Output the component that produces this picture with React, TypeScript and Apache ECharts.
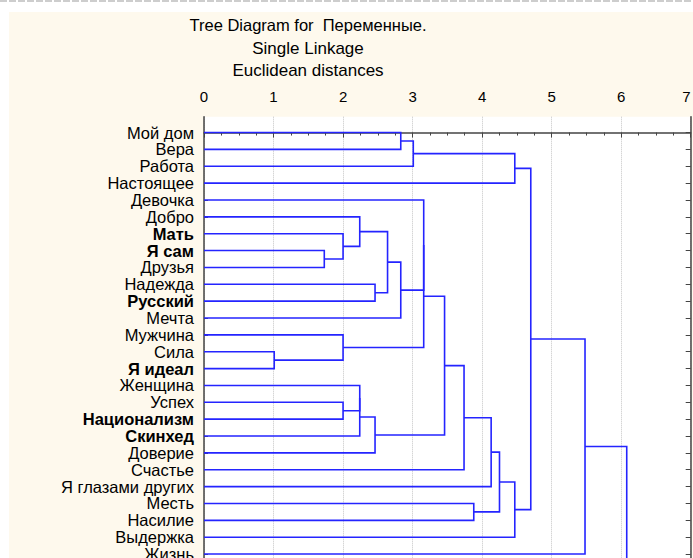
import React, { useEffect, useRef } from 'react';
import * as echarts from 'echarts';

// Leaves in dendrogram order (the last one lies below the visible frame)
const variableLabels: string[] = [
  'Мой дом', 'Вера', 'Работа', 'Настоящее', 'Девочка', 'Добро', 'Мать', 'Я сам',
  'Друзья', 'Надежда', 'Русский', 'Мечта', 'Мужчина', 'Сила', 'Я идеал', 'Женщина',
  'Успех', 'Национализм', 'Скинхед', 'Доверие', 'Счастье', 'Я глазами других',
  'Месть', 'Насилие', 'Выдержка', 'Жизнь', '',
];
const boldLabels: string[] = ['Мать', 'Я сам', 'Русский', 'Я идеал', 'Национализм', 'Скинхед'];

// Linkage table: ids < leaf count are leaves, leafCount + k is the k-th merge
const mergeChildA: number[] = [13, 7, 6, 16, 12, 5, 15, 33, 9, 34, 32, 0, 37, 38, 4, 41, 42, 43, 22, 44, 46, 40, 47, 48, 50, 51];
const mergeChildB: number[] = [14, 8, 28, 17, 27, 29, 30, 18, 10, 19, 35, 1, 11, 2, 39, 31, 36, 20, 23, 21, 45, 3, 24, 49, 25, 26];
const mergeDistance: number[] = [1.01, 1.73, 2.0, 2.0, 2.0, 2.24, 2.24, 2.24, 2.46, 2.46, 2.64, 2.83, 2.83, 3.01, 3.16, 3.16, 3.46, 3.74, 3.88, 4.13, 4.25, 4.47, 4.47, 4.7, 5.48, 6.08];

const xTicks: number[] = [0, 1, 2, 3, 4, 5, 6, 7];

const titleLines: string[] = ['Tree Diagram for  Переменные.', 'Single Linkage', 'Euclidean distances'];

const FONT = '"Liberation Sans", Arial, sans-serif';

function buildLinks() {
  const n = variableLabels.length;
  const nodeY: number[] = variableLabels.map((_, i) => i);
  const nodeH: number[] = variableLabels.map(() => 0);
  const data: number[][] = [];
  mergeDistance.forEach((h, k) => {
    const a = mergeChildA[k];
    const b = mergeChildB[k];
    data.push([h, nodeY[a], nodeH[a], nodeY[b], nodeH[b]]);
    nodeY[n + k] = (nodeY[a] + nodeY[b]) / 2;
    nodeH[n + k] = h;
  });
  return data;
}

export default function App() {
  const ref = useRef<HTMLDivElement>(null);

  useEffect(() => {
    if (!ref.current) return;
    const chart = echarts.init(ref.current, undefined, { renderer: 'svg' });
    const rows = variableLabels.map((_, i) => i);
    const visibleRows = rows.filter((i) => variableLabels[i] !== '');
    const yMin = -0.94;
    const yMax = variableLabels.length - 1 + 0.94;
    const rowPx = 16.86;
    const gridTop = 116.7;

    const option: any = {
      animation: false,
      backgroundColor: '#fef9ed',
      graphic: [
        { type: 'rect', shape: { x: 0, y: 0, width: 693, height: 12 }, style: { fill: '#ffffff' }, silent: true },
        { type: 'rect', shape: { x: 0, y: 0, width: 9, height: 620 }, style: { fill: '#ffffff' }, silent: true },
        {
          type: 'line', shape: { x1: 0, y1: 1, x2: 693, y2: 1 },
          style: { stroke: '#bdbdbd', lineWidth: 1.5, lineDash: [7, 2] }, silent: true,
        },
        ...titleLines.map((t, i) => ({
          type: 'text', x: 308, y: [25, 48, 70][i],
          style: {
            text: t, fill: '#000', font: `${i === 0 ? 16.5 : 17}px ${FONT}`,
            textAlign: 'center', textVerticalAlign: 'middle',
          },
        })),
      ],
      grid: {
        left: 204, top: gridTop, right: 2.3,
        height: (yMax - yMin) * rowPx,
        outerBoundsMode: 'none',
        containLabel: false,
        show: true, backgroundColor: '#ffffff', borderWidth: 0,
      },
      xAxis: {
        type: 'value', position: 'top', min: 0, max: 7, interval: 1,
        axisLine: { show: true, lineStyle: { color: '#444', width: 1.5 } },
        axisTick: { show: true, inside: true, length: 5, lineStyle: { color: '#444' } },
        minorTick: { show: true, splitNumber: 4, length: 3, lineStyle: { color: '#444' } },
        splitLine: { show: true, lineStyle: { color: '#c4c4c4', type: 'dotted', width: 1 } },
        axisLabel: {
          color: '#000', fontSize: 15, fontFamily: FONT, margin: 13,
          alignMaxLabel: 'right',
          formatter: (v: number) => (xTicks.includes(v) ? String(v) : ''),
        },
      },
      yAxis: [
        {
          type: 'value', inverse: true, min: yMin, max: yMax, position: 'left',
          axisLine: { show: true, lineStyle: { color: '#444', width: 1.5 } },
          axisTick: { show: true, inside: true, length: 4, customValues: rows, lineStyle: { color: '#444' } },
          splitLine: { show: false },
          axisLabel: {
            show: true, customValues: visibleRows, margin: 10, color: '#000',
            hideOverlap: false, showMinLabel: true, showMaxLabel: true,
            fontFamily: FONT, fontSize: 16.5,
            formatter: (v: number) => {
              const lab = variableLabels[Math.round(v)] ?? '';
              return boldLabels.includes(lab) ? `{b|${lab}}` : `{n|${lab}}`;
            },
            rich: {
              n: { fontFamily: FONT, fontSize: 16.5, color: '#000' },
              b: { fontFamily: FONT, fontSize: 16.5, fontWeight: 'bold', color: '#000' },
            },
          },
        },
        {
          type: 'value', inverse: true, min: yMin, max: yMax, position: 'right',
          axisLine: { show: true, lineStyle: { color: '#444', width: 1.5 } },
          axisTick: { show: true, inside: true, length: 5, customValues: rows, lineStyle: { color: '#444' } },
          splitLine: { show: false },
          axisLabel: { show: false },
        },
      ],
      series: [
        {
          type: 'custom',
          xAxisIndex: 0,
          yAxisIndex: 0,
          encode: { x: [0, 2], y: [1, 3] },
          data: buildLinks(),
          renderItem: (_params: any, api: any) => {
            const h = api.value(0);
            const yA = api.value(1);
            const hA = api.value(2);
            const yB = api.value(3);
            const hB = api.value(4);
            const pts = [
              api.coord([hA, yA]),
              api.coord([h, yA]),
              api.coord([h, yB]),
              api.coord([hB, yB]),
            ];
            return {
              type: 'polyline',
              shape: { points: pts },
              style: { stroke: '#2424ff', lineWidth: 1.6, fill: null },
            };
          },
        },
      ],
    };
    chart.setOption(option);
    return () => chart.dispose();
  }, []);

  return (
    <div style={{ position: 'absolute', left: 0, top: 0, width: 693, height: 558, overflow: 'hidden' }}>
      <div ref={ref} style={{ width: 693, height: 620 }} />
    </div>
  );
}
